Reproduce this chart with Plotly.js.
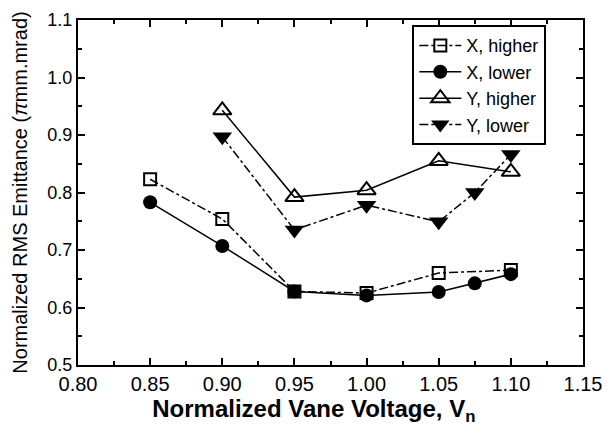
<!DOCTYPE html>
<html>
<head>
<meta charset="utf-8">
<script src="https://cdn.plot.ly/plotly-3.0.1.min.js"></script>
<style>html,body{margin:0;padding:0;background:#fff;}#chart{width:607px;height:444px;}</style>
</head>
<body>
<div id="chart"></div>
<script>
const xHigherV = [0.85, 0.90, 0.95, 1.00, 1.05, 1.10];
const xHigherE = [0.823, 0.754, 0.628, 0.625, 0.660, 0.665];
const xLowerV = [0.85, 0.90, 0.95, 1.00, 1.05, 1.075, 1.10];
const xLowerE = [0.783, 0.707, 0.628, 0.621, 0.627, 0.642, 0.658];
const yHigherV = [0.90, 0.95, 1.00, 1.05, 1.10];
const yHigherE = [0.943, 0.792, 0.804, 0.855, 0.836];
const yLowerV = [0.90, 0.95, 1.00, 1.05, 1.075, 1.10];
const yLowerE = [0.897, 0.735, 0.778, 0.749, 0.800, 0.866];
const names = ['X, higher', 'X, lower', 'Y, higher', 'Y, lower'];
const xTicks = [0.80, 0.85, 0.90, 0.95, 1.00, 1.05, 1.10, 1.15];
const xTickText = ['0.80', '0.85', '0.90', '0.95', '1.00', '1.05', '1.10', '1.15'];
const yTicks = [0.5, 0.6, 0.7, 0.8, 0.9, 1.0, 1.1];
const yTickText = ['0.5', '0.6', '0.7', '0.8', '0.9', '1.0', '1.1'];

const traces = [
  {x: xHigherV, y: xHigherE, name: names[0], mode: 'lines+markers',
   line: {color: 'black', width: 1.5, dash: 'dashdot'},
   marker: {symbol: 'square-open', size: 12, color: 'black', line: {width: 2, color: 'black'}}},
  {x: xLowerV, y: xLowerE, name: names[1], mode: 'lines+markers',
   line: {color: 'black', width: 1.5},
   marker: {symbol: 'circle', size: 14, color: 'black'}},
  {x: yHigherV, y: yHigherE, name: names[2], mode: 'lines+markers',
   line: {color: 'black', width: 1.5},
   marker: {symbol: 'triangle-up-open', size: 16, color: 'black', line: {width: 2, color: 'black'}}},
  {x: yLowerV, y: yLowerE, name: names[3], mode: 'lines+markers',
   line: {color: 'black', width: 1.5, dash: 'dashdot'},
   marker: {symbol: 'triangle-down', size: 17, color: 'black'}}
];

const layout = {
  width: 607, height: 444,
  margin: {l: 78, r: 24, t: 20, b: 79},
  paper_bgcolor: 'white', plot_bgcolor: 'white',
  font: {family: 'Liberation Sans, Arial, sans-serif', color: 'black', size: 18},
  showlegend: true,
  legend: {x: 0.662, y: 0.985, xanchor: 'left', yanchor: 'top',
    bordercolor: 'black', borderwidth: 2, bgcolor: 'white',
    font: {size: 18}, tracegroupgap: 0, itemwidth: 42},
  xaxis: {
    range: [0.80, 1.15], tickvals: xTicks, ticktext: xTickText,
    tickfont: {size: 20},
    ticks: 'inside', ticklen: 7, tickwidth: 2, tickcolor: 'black',
    minor: {dtick: 0.025, tick0: 0.8, ticks: 'inside', ticklen: 4, tickwidth: 2, tickcolor: 'black'},
    showline: true, linecolor: 'black', linewidth: 2, mirror: 'ticks',
    showgrid: false, zeroline: false, automargin: false,
    title: {text: '<b>Normalized Vane Voltage, V<sub>n</sub></b>&nbsp;&nbsp;&nbsp;&nbsp;&nbsp;', font: {size: 24}, standoff: 4}
  },
  yaxis: {
    range: [0.5, 1.1], tickvals: yTicks, ticktext: yTickText,
    tickfont: {size: 18},
    ticks: 'inside', ticklen: 7, tickwidth: 2, tickcolor: 'black',
    minor: {dtick: 0.05, tick0: 0.5, ticks: 'inside', ticklen: 4, tickwidth: 2, tickcolor: 'black'},
    showline: true, linecolor: 'black', linewidth: 2, mirror: 'ticks',
    showgrid: false, zeroline: false, automargin: false,
    title: {text: 'Normalized RMS Emittance (<i>π</i>mm.mrad)', font: {size: 20}, standoff: 14}
  }
};

Plotly.newPlot('chart', traces, layout, {displayModeBar: false, staticPlot: true});
</script>
</body>
</html>
